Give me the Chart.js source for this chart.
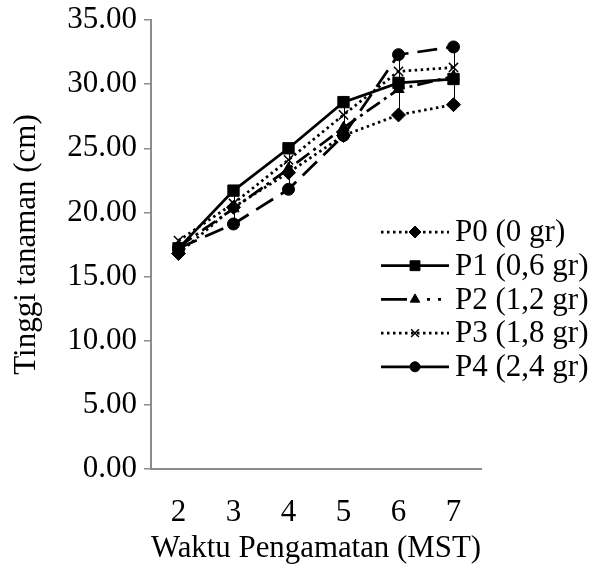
<!DOCTYPE html>
<html>
<head>
<meta charset="utf-8">
<script src="https://cdn.jsdelivr.net/npm/chart.js@4"></script>
<style>
  html, body { margin: 0; padding: 0; background: #fff; }
  #wrap { width: 601px; height: 567px; }
</style>
</head>
<body>
<div id="wrap"><canvas id="chart" width="601" height="567"></canvas></div>
<script>
// data
const categories = ['2', '3', '4', '5', '6', '7'];
const seriesNames = ['P0 (0 gr)', 'P1 (0,6 gr)', 'P2 (1,2 gr)', 'P3 (1,8 gr)', 'P4 (2,4 gr)'];
const p0 = [16.8, 20.4, 23.1, 26.0, 27.6, 28.4];
const p1 = [17.2, 21.7, 25.0, 28.6, 30.1, 30.4];
const p2 = [17.3, 20.3, 23.4, 26.6, 29.6, 30.6];
const p3 = [17.8, 20.7, 24.1, 27.6, 31.0, 31.3];
const p4 = [17.2, 19.1, 21.8, 26.0, 32.3, 32.9];
const yTicks = [0, 5, 10, 15, 20, 25, 30, 35];

const FONT = 'Liberation Serif, Times New Roman, serif';
const FS = 31;
const AXIS = '#8c8c8c';

function series(label, data, style, dash, radius, legendDash) {
  return {
    label, data, legendDash,
    borderColor: '#000', backgroundColor: '#000',
    borderWidth: 2.75, borderDash: dash,
    pointStyle: style, pointRadius: radius, pointHoverRadius: radius,
    pointBackgroundColor: '#000', pointBorderColor: '#000',
    pointBorderWidth: style === 'crossRot' ? 1.5 : 1,
    tension: 0, fill: false
  };
}

// Excel style high-low lines at each category
const highLow = {
  id: 'highLow',
  beforeDatasetsDraw(chart) {
    const { ctx, scales: { x, y } } = chart;
    ctx.save();
    ctx.strokeStyle = '#000';
    ctx.lineWidth = 1;
    categories.forEach((c, i) => {
      const vals = chart.data.datasets.map(d => d.data[i]);
      const px = Math.round(x.getPixelForValue(i)) + 0.5;
      ctx.beginPath();
      ctx.moveTo(px, y.getPixelForValue(Math.max(...vals)));
      ctx.lineTo(px, y.getPixelForValue(Math.min(...vals)));
      ctx.stroke();
    });
    ctx.restore();
  }
};

// legend drawn on the right, overlapping the plot like the original
const sideLegend = {
  id: 'sideLegend',
  afterDraw(chart) {
    const ctx = chart.ctx;
    chart.data.datasets.forEach((ds, i) => {
      const yy = 232 + i * 33.7;
      ctx.save();
      ctx.strokeStyle = '#000';
      ctx.fillStyle = '#000';
      ctx.lineWidth = ds.borderWidth;
      ctx.setLineDash(ds.legendDash || ds.borderDash || []);
      ctx.beginPath();
      ctx.moveTo(381, yy);
      ctx.lineTo(449, yy);
      ctx.stroke();
      ctx.setLineDash([]);
      ctx.lineWidth = ds.pointBorderWidth;
      Chart.helpers.drawPoint(ctx, {
        pointStyle: ds.pointStyle, radius: ds.pointRadius - 1,
        borderWidth: ds.pointBorderWidth, rotation: 0
      }, 415, yy);
      ctx.font = FS + 'px ' + FONT;
      ctx.textBaseline = 'middle';
      ctx.textAlign = 'left';
      ctx.fillText(ds.label, 455, yy + 1);
      ctx.restore();
    });
  }
};

new Chart(document.getElementById('chart'), {
  type: 'line',
  data: {
    labels: categories,
    datasets: [
      series(seriesNames[0], p0, 'rectRot', [2.5, 3.5], 7),
      series(seriesNames[1], p1, 'rect', [], 8),
      series(seriesNames[2], p2, 'triangle', [16, 5, 3, 5], 6.5, [26, 20, 3, 8, 3, 100]),
      series(seriesNames[3], p3, 'crossRot', [2.5, 3.5], 6.5),
      series(seriesNames[4], p4, 'circle', [20, 9], 6, [])
    ]
  },
  options: {
    responsive: false,
    animation: false,
    layout: { padding: { left: 0, right: 120, top: 20, bottom: 0 } },
    plugins: { legend: { display: false }, tooltip: { enabled: false } },
    scales: {
      x: {
        offset: true,
        grid: { display: false },
        border: { display: true, color: AXIS, width: 2 },
        ticks: { color: '#000', font: { family: FONT, size: FS }, padding: 17, maxRotation: 0 },
        title: { display: true, text: 'Waktu Pengamatan (MST)', color: '#000', font: { family: FONT, size: FS }, padding: { top: 0, bottom: 0 } },
        afterFit(s) { s.height = 98; }
      },
      y: {
        min: 0, max: 35,
        afterBuildTicks(s) { s.ticks = yTicks.map(v => ({ value: v })); },
        grid: { display: true, drawOnChartArea: false, drawTicks: true, tickLength: 7, color: AXIS, lineWidth: 1.5 },
        border: { display: true, color: AXIS, width: 2 },
        ticks: { color: '#000', font: { family: FONT, size: FS }, padding: 7, callback: v => v.toFixed(2) },
        title: { display: true, text: 'Tinggi tanaman (cm)', color: '#000', font: { family: FONT, size: FS }, padding: { top: 8, bottom: 0 } },
        afterFit(s) { s.width = 151; s.paddingTop = 0; s.paddingBottom = 0; }
      }
    }
  },
  plugins: [highLow, sideLegend]
});
</script>
</body>
</html>
